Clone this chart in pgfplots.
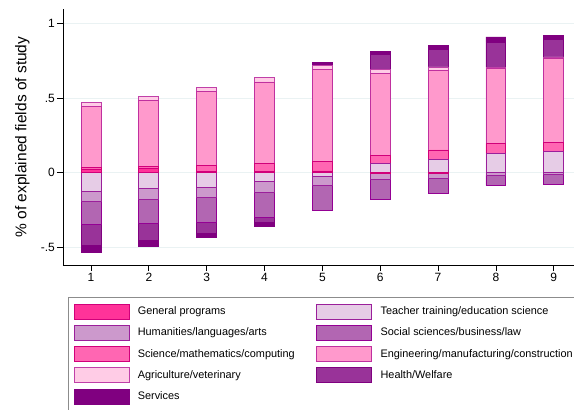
\documentclass[border=0pt]{standalone}
\usepackage{fontspec}
\setmainfont{Liberation Sans}
\usepackage{pgfplots}
\usepackage{pgfplotstable}
\pgfplotsset{compat=1.18}

\definecolor{genF}{HTML}{FF3399}\definecolor{genD}{HTML}{D1007A}
\definecolor{teaF}{HTML}{E6CCE6}\definecolor{teaD}{HTML}{9B1F9B}
\definecolor{humF}{HTML}{CC99CC}\definecolor{humD}{HTML}{9B1F9B}
\definecolor{socF}{HTML}{B266B2}\definecolor{socD}{HTML}{940094}
\definecolor{sciF}{HTML}{FF66B2}\definecolor{sciD}{HTML}{D1007A}
\definecolor{engF}{HTML}{FF99CC}\definecolor{engD}{HTML}{C0309F}
\definecolor{agrF}{HTML}{FFCCE6}\definecolor{agrD}{HTML}{C040A8}
\definecolor{heaF}{HTML}{993399}\definecolor{heaD}{HTML}{800080}
\definecolor{serF}{HTML}{800080}\definecolor{serD}{HTML}{800080}
\definecolor{gridc}{HTML}{EAF2F3}
\definecolor{legc}{HTML}{8C8C8C}

% share of explained fields of study, by field (positive parts stack up, negative parts stack down)
\pgfplotstableread{
x gen tea hum soc sci eng agr hea ser
1 0.020  -0.125 -0.065 -0.155 0.018 0.405 0.025 -0.140 -0.045
2 0.032  -0.105 -0.070 -0.165 0.012 0.440 0.026 -0.115 -0.035
3 0.010  -0.095 -0.070 -0.165 0.042 0.490 0.027 -0.075 -0.025
4 0.010  -0.060 -0.070 -0.170 0.050 0.548 0.028 -0.035 -0.025
5 0.012  -0.025 -0.060 -0.165 0.062 0.615 0.028 0      0.022
6 -0.005 0.064  -0.040 -0.135 0.053 0.550 0.025 0.100  0.020
7 -0.005 0.090  -0.030 -0.105 0.063 0.533 0.022 0.118  0.027
8 0      0.130  -0.015 -0.070 0.065 0.505 0.005 0.167  0.037
9 0      0.140  -0.010 -0.070 0.065 0.560 0.010 0.115  0.030
}\datatab

\pgfplotsset{
  gen/.style={fill=genF,draw=genD},
  tea/.style={fill=teaF,draw=teaD},
  hum/.style={fill=humF,draw=humD},
  soc/.style={fill=socF,draw=socD},
  sci/.style={fill=sciF,draw=sciD},
  eng/.style={fill=engF,draw=engD},
  agr/.style={fill=agrF,draw=agrD},
  hea/.style={fill=heaF,draw=heaD},
  ser/.style={fill=serF,draw=serD},
}

\begin{document}
\begin{tikzpicture}
\begin{axis}[
  scale only axis, width=511bp, height=256bp,
  xmin=0.516, xmax=9.35, ymin=-0.617, ymax=1.096,
  ybar stacked, bar width=0.345,
  every axis plot/.append style={line width=0.8bp},
  axis x line*=bottom, axis y line*=left,
  axis line style={black, line width=0.7bp},
  xtick={1,2,3,4,5,6,7,8,9},
  xticklabels={1,2,3,4,5,6,7,8,9},
  ytick={-0.5,0,0.5,1}, yticklabels={-.5,0,.5,1},
  ymajorgrids, grid style={color=gridc, line width=0.8bp},
  tick align=outside, major tick length=6bp,
  tick style={black, line width=0.7bp},
  ticklabel style={font=\fontsize{12bp}{14bp}\selectfont},
  yticklabel style={inner sep=2bp},
  xticklabel style={inner sep=2bp},
  ylabel={\% of explained fields of study},
  ylabel style={at={(axis description cs:-0.0793,0.5)}, anchor=center,
    font=\fontsize{15.5bp}{17bp}\selectfont},
  legend columns=2,
  legend style={at={(axis description cs:0.0098,-0.125)}, anchor=north west,
    draw=legc, line width=0.7bp, inner xsep=5.5bp, inner ysep=6.5bp,
    outer sep=0pt,
    /tikz/row sep=5.5bp, /tikz/column sep=0pt,
    font=\fontsize{10.9bp}{13bp}\selectfont,
    cells={anchor=west, inner sep=0pt, text height=7.9bp, text depth=0pt}},
  legend image code/.code={\draw[#1,line width=0.8bp] (0bp,-7.5bp) rectangle (55bp,7.5bp); \path (61.5bp,0bp);},
]
\coordinate (o) at (rel axis cs:0,0);
\addplot[gen] table[x=x,y=gen]{\datatab};
\addlegendentry{\makebox[176.5bp][l]{General programs}}
\addplot[tea] table[x=x,y=tea]{\datatab};
\addlegendentry{Teacher training/education science}
\addplot[hum] table[x=x,y=hum]{\datatab};
\addlegendentry{\makebox[176.5bp][l]{Humanities/languages/arts}}
\addplot[soc] table[x=x,y=soc]{\datatab};
\addlegendentry{Social sciences/business/law}
\addplot[sci] table[x=x,y=sci]{\datatab};
\addlegendentry{\makebox[176.5bp][l]{Science/mathematics/computing}}
\addplot[eng] table[x=x,y=eng]{\datatab};
\addlegendentry{Engineering/manufacturing/construction}
\addplot[agr] table[x=x,y=agr]{\datatab};
\addlegendentry{\makebox[176.5bp][l]{Agriculture/veterinary}}
\addplot[hea] table[x=x,y=hea]{\datatab};
\addlegendentry{Health/Welfare}
\addplot[ser] table[x=x,y=ser]{\datatab};
\addlegendentry{\makebox[176.5bp][l]{Services}}
\end{axis}
\pgfresetboundingbox
\path ([shift={(-63bp,-145bp)}]o) rectangle ([shift={(511bp,265bp)}]o);
\end{tikzpicture}
\end{document}
